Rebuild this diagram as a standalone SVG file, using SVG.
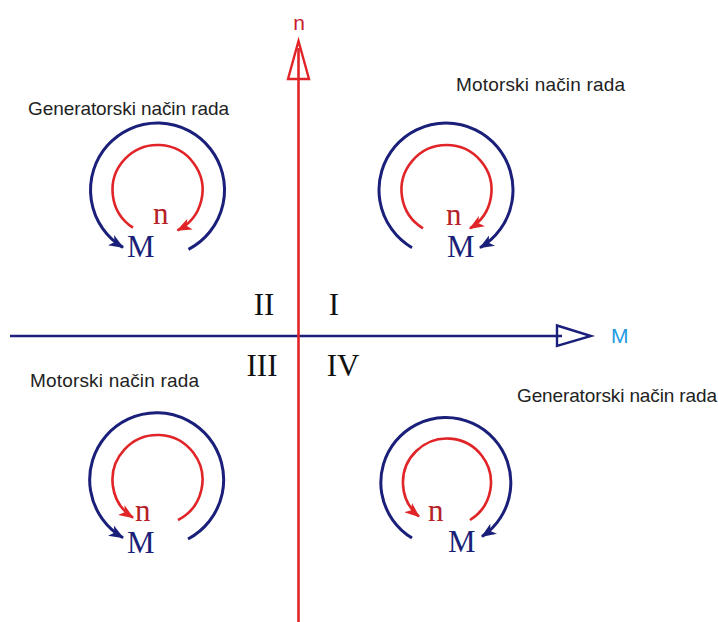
<svg xmlns="http://www.w3.org/2000/svg" width="718" height="622" viewBox="0 0 718 622">
<style>
.lbl{font-family:"Liberation Sans",Arial,sans-serif;font-size:19px;fill:#222}
.rom{font-family:"Liberation Serif","Times New Roman",serif;font-size:31px;fill:#111;text-anchor:middle}
.nn{font-family:"Liberation Serif","Times New Roman",serif;font-size:31px;fill:#b52228}
.mm{font-family:"Liberation Serif","Times New Roman",serif;font-size:31px;fill:#1a1f78}
.ba{fill:none;stroke:#1a1f7a;stroke-width:3;marker-end:url(#ab)}
.ra{fill:none;stroke:#e02428;stroke-width:2.6;marker-end:url(#ar)}
</style>
<defs>
<marker id="ab" markerUnits="userSpaceOnUse" markerWidth="15" markerHeight="12" viewBox="0 0 15 12" refX="14" refY="6" orient="auto">
<path d="M0,0 L15,6 L0,12 L4,6 z" fill="#1a1f7a"/>
</marker>
<marker id="ar" markerUnits="userSpaceOnUse" markerWidth="15" markerHeight="12" viewBox="0 0 15 12" refX="14" refY="6" orient="auto">
<path d="M0,0 L15,6 L0,12 L4,6 z" fill="#e02428"/>
</marker>
</defs>
<rect width="718" height="622" fill="#fff"/>
<g id="axes">
<line x1="10" y1="336" x2="562" y2="336" stroke="#1a1f7a" stroke-width="2.6"/>
<polygon points="557,325.5 591,336 557,346" fill="none" stroke="#1a1f7a" stroke-width="2.4"/>
<line x1="298.5" y1="48" x2="298.5" y2="622" stroke="#e02428" stroke-width="2.6"/>
<polygon points="298.5,41 288,79 309,79" fill="none" stroke="#e02428" stroke-width="2.4"/>
<text x="299" y="30" text-anchor="middle" style="font-family:'Liberation Sans',Arial,sans-serif;font-size:21px;fill:#c8202c">n</text>
<text x="611" y="343" style="font-family:'Liberation Sans',Arial,sans-serif;font-size:21px;fill:#1e9be0">M</text>
</g>
<g id="numerals">
<text class="rom" x="264" y="315">II</text>
<text class="rom" x="334" y="315">I</text>
<text class="rom" x="262" y="376">III</text>
<text class="rom" x="343" y="376">IV</text>
</g>
<g id="labels">
<text class="lbl" x="28" y="115" textLength="201">Generatorski način rada</text>
<text class="lbl" x="456" y="91" textLength="169">Motorski način rada</text>
<text class="lbl" x="30" y="387" textLength="169">Motorski način rada</text>
<text class="lbl" x="517" y="402" textLength="200">Generatorski način rada</text>
</g>
<g id="q2">
<path class="ba" d="M188.5,249.4 A67,67 0 1 0 123,247.4"/>
<path class="ra" d="M133,227.7 A45,45 0 1 1 177.5,230.3"/>
<text class="nn" x="153" y="224">n</text>
<text class="mm" x="127" y="257">M</text>
</g>
<g id="q1">
<path class="ba" d="M412,247.7 A67,67 0 1 1 480,247.7"/>
<path class="ra" d="M423,228.4 A45,45 0 1 1 470,228.4"/>
<text class="nn" x="446" y="225">n</text>
<text class="mm" x="447" y="257">M</text>
</g>
<g id="q3">
<path class="ba" d="M188,539 A67,67 0 1 0 123,537.7"/>
<path class="ra" d="M178,520 A45,45 0 1 0 133,517.7"/>
<text class="nn" x="135" y="521">n</text>
<text class="mm" x="127" y="553">M</text>
</g>
<g id="q4">
<path class="ba" d="M412,538 A65,65 0 1 1 482,536.5"/>
<path class="ra" d="M470,520 A44,44 0 1 0 419,516.5"/>
<text class="nn" x="428" y="521">n</text>
<text class="mm" x="448" y="552">M</text>
</g>
</svg>
